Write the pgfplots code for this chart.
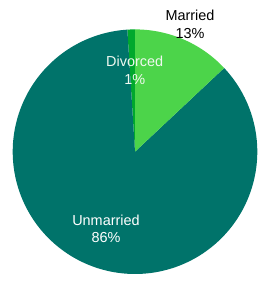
\documentclass[border=0pt]{standalone}
\usepackage{pgfplots}
\pgfplotsset{compat=1.18}
\usepackage{fontspec}
\setmainfont{Liberation Sans}
\definecolor{cUnm}{HTML}{00736A}
\definecolor{cMar}{HTML}{4CD44A}
\definecolor{cDiv}{HTML}{00A82D}
\definecolor{cLab}{HTML}{F0F8F0}
% shares in percent
\def\vDiv{1}
\def\vUnm{86}
\def\vMar{13}
\begin{document}
\begin{tikzpicture}
\pgfmathsetmacro{\aA}{90}
\pgfmathsetmacro{\aB}{\aA+3.6*\vDiv}
\pgfmathsetmacro{\aC}{\aB+3.6*\vUnm}
\pgfmathsetmacro{\aD}{\aC+3.6*\vMar}
\def\cx{135}\def\cy{130.3}\def\R{122.3}
\tikzset{lab/.style={font=\fontsize{14.5}{17.5}\selectfont, align=center, inner sep=0pt}}
\begin{axis}[
  scale only axis, width=268bp, height=282bp,
  xmin=0, xmax=268, ymin=0, ymax=282,
  hide axis, clip=false,
]
\addplot[fill=cDiv, draw=none, domain=\aA:\aB, samples=6, variable=\t]
  ({\cx+\R*cos(t)},{\cy+\R*sin(t)}) -- (axis cs:\cx,\cy) -- cycle;
\addplot[fill=cUnm, draw=none, domain=\aB:\aC, samples=200, variable=\t]
  ({\cx+\R*cos(t)},{\cy+\R*sin(t)}) -- (axis cs:\cx,\cy) -- cycle;
\addplot[fill=cMar, draw=none, domain=\aC:\aD, samples=40, variable=\t]
  ({\cx+\R*cos(t)},{\cy+\R*sin(t)}) -- (axis cs:\cx,\cy) -- cycle;
\node[lab, text=black] at (axis cs:190,257.5) {Married\\13\%};
\node[lab, text=cLab] at (axis cs:134.7,211.5) {Divorced\\1\%};
\node[lab, text=white] at (axis cs:106,53) {Unmarried\\86\%};
\end{axis}
\pgfresetboundingbox
\path (current axis.south west) rectangle (current axis.north east);
\end{tikzpicture}
\end{document}
